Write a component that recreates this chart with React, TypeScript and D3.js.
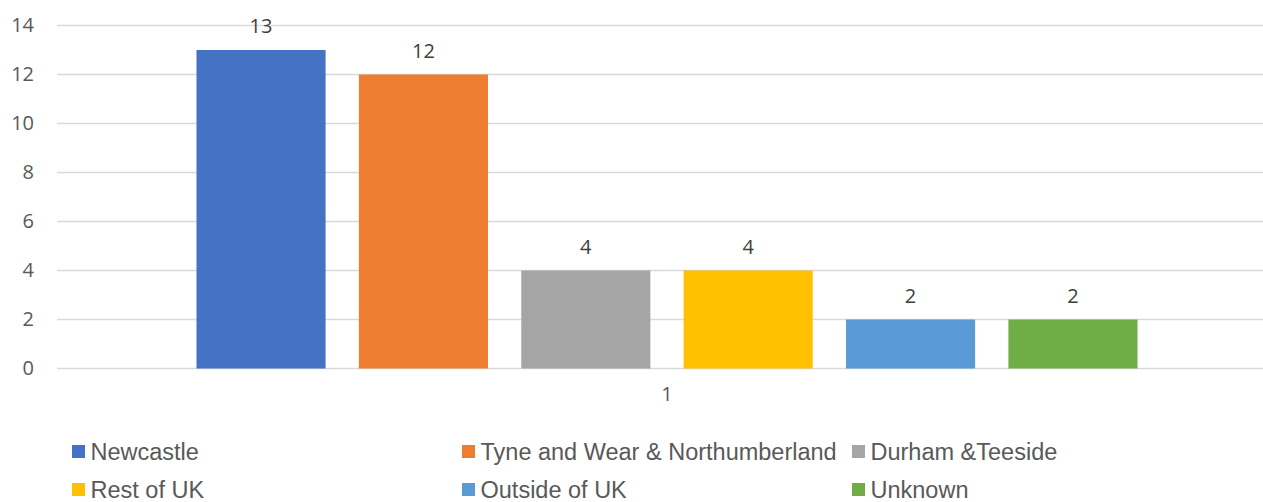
import React, { useEffect, useRef } from 'react';
import * as d3 from 'd3';

const categories = ['1'];
const seriesNames = [
  'Newcastle',
  'Tyne and Wear & Northumberland',
  'Durham &Teeside',
  'Rest of UK',
  'Outside of UK',
  'Unknown',
];
const seriesValues = [13, 12, 4, 4, 2, 2];
const seriesColors = ['#4472C4', '#ED7D31', '#A5A5A5', '#FFC000', '#5B9BD5', '#70AD47'];
const yTicks = [0, 2, 4, 6, 8, 10, 12, 14];

const W = 1263;
const H = 502;

const App: React.FC = () => {
  const ref = useRef<SVGSVGElement>(null);

  useEffect(() => {
    if (!ref.current) return;
    const svg = d3.select(ref.current);
    svg.selectAll('*').remove();

    const left = 57;
    const right = 1277;
    const top = 25.5;
    const bottom = 368.5;

    const y = d3.scaleLinear().domain([0, 14]).range([bottom, top]);
    const x0 = d3.scaleBand().domain(categories).range([left, right]).padding(0);
    const x1 = d3
      .scaleBand()
      .domain(seriesNames)
      .range([0, x0.bandwidth()])
      .paddingInner(0.205)
      .paddingOuter(0.859);

    // gridlines
    svg
      .append('g')
      .selectAll('line')
      .data(yTicks)
      .enter()
      .append('line')
      .attr('x1', left)
      .attr('x2', W)
      .attr('y1', (d) => y(d))
      .attr('y2', (d) => y(d))
      .attr('stroke', '#d9d9d9')
      .attr('stroke-width', 1.5);

    // y axis labels
    const yAxis = svg
      .append('g')
      .attr('transform', `translate(${left},0)`)
      .call(d3.axisLeft(y).tickValues(yTicks).tickSize(0).tickPadding(23));
    yAxis.select('.domain').remove();
    yAxis
      .selectAll('text')
      .attr('fill', '#595959')
      .attr('font-size', 20)
      .attr('font-family', '"Open Sans", sans-serif');

    // category axis label
    const xAxis = svg
      .append('g')
      .attr('transform', `translate(0,${bottom})`)
      .call(d3.axisBottom(x0).tickSize(0).tickPadding(18));
    xAxis.select('.domain').remove();
    xAxis
      .selectAll('text')
      .attr('fill', '#595959')
      .attr('font-size', 20)
      .attr('font-family', '"Open Sans", sans-serif');

    const g = svg.append('g');
    categories.forEach((cat) => {
      const gx = x0(cat)!;
      seriesNames.forEach((name, i) => {
        const v = seriesValues[i];
        g.append('rect')
          .attr('x', gx + x1(name)!)
          .attr('y', y(v))
          .attr('width', x1.bandwidth())
          .attr('height', bottom - y(v))
          .attr('fill', seriesColors[i]);
        g.append('text')
          .attr('x', gx + x1(name)! + x1.bandwidth() / 2)
          .attr('y', y(v) - 17)
          .attr('text-anchor', 'middle')
          .attr('fill', '#404040')
          .attr('font-size', 20)
          .attr('font-family', '"Open Sans", sans-serif')
          .text(String(v));
      });
    });

    // legend
    const legend = svg.append('g');
    seriesNames.forEach((name, i) => {
      const col = i % 3;
      const row = Math.floor(i / 3);
      const lx = 72 + col * 390;
      const base = 460 + row * 38;
      legend
        .append('rect')
        .attr('x', lx)
        .attr('y', base - 15)
        .attr('width', 13)
        .attr('height', 13)
        .attr('fill', seriesColors[i]);
      legend
        .append('text')
        .attr('x', lx + 18.5)
        .attr('y', base)
        .attr('fill', '#595959')
        .attr('font-size', 23.5)
        .attr('font-family', '"Liberation Sans", Arial, sans-serif')
        .text(name);
    });
  }, []);

  return (
    <svg
      ref={ref}
      width={W}
      height={H}
      style={{ position: 'absolute', left: 0, top: 0, background: '#fff' }}
    ></svg>
  );
};

export default App;
